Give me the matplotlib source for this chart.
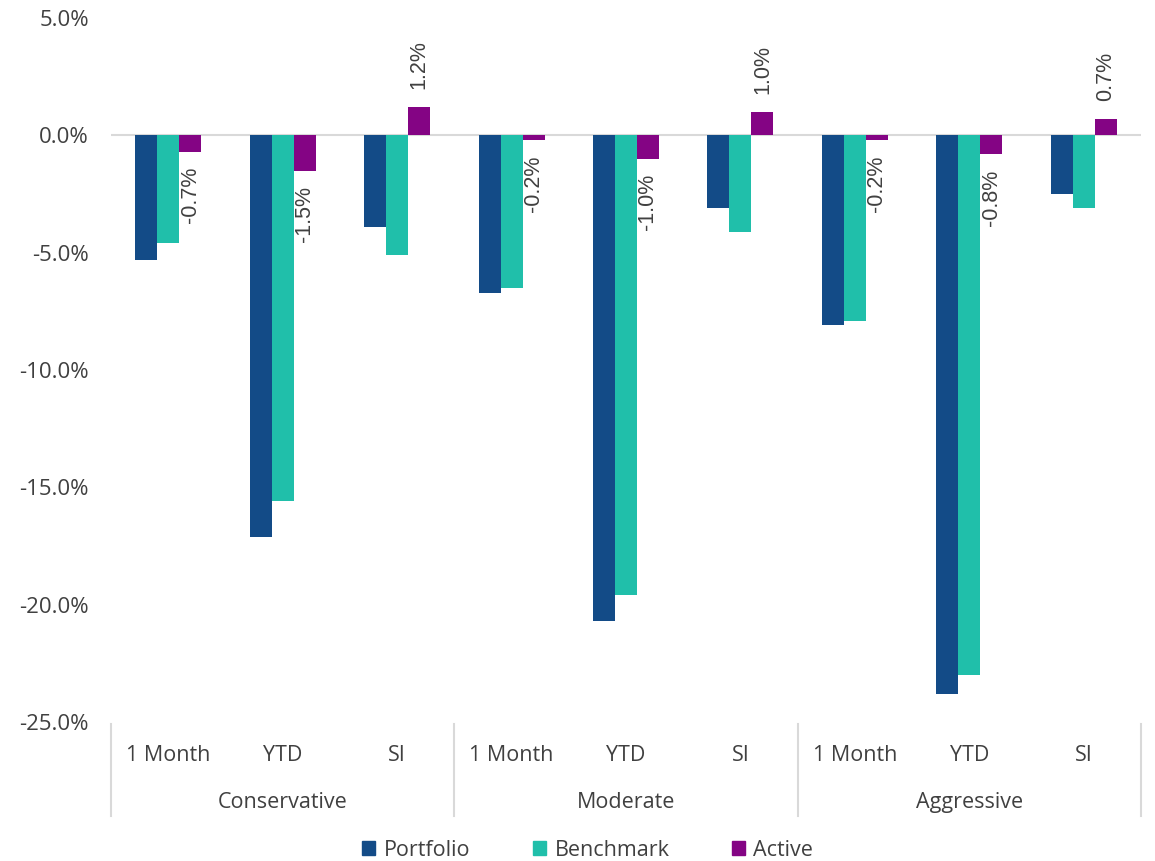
import numpy as np
import matplotlib.pyplot as plt
from matplotlib.patches import Patch
import matplotlib.transforms as mtransforms

plt.rcParams['font.family'] = ['Open Sans', 'DejaVu Sans']

groups = ['Conservative', 'Moderate', 'Aggressive']
periods = ['1 Month', 'YTD', 'SI']
portfolio = [-5.3, -17.1, -3.9, -6.7, -20.7, -3.1, -8.1, -23.8, -2.5]
benchmark = [-4.6, -15.6, -5.1, -6.5, -19.6, -4.1, -7.9, -23.0, -3.1]
active = [-0.7, -1.5, 1.2, -0.2, -1.0, 1.0, -0.2, -0.8, 0.7]

c_port = '#134b87'
c_bench = '#20bfaa'
c_act = '#840484'
txt = '#404040'
grid = '#d9d9d9'

fig = plt.figure(figsize=(11.55, 8.61), dpi=100)
ax = fig.add_axes([111 / 1155, 1 - 722 / 861, 1030 / 1155, 704 / 861])

x = np.arange(len(portfolio))
w = 0.192
ax.bar(x - w, portfolio, w, color=c_port, zorder=3)
ax.bar(x, benchmark, w, color=c_bench, zorder=3)
bars = ax.bar(x + w, active, w, color=c_act, zorder=3)

for b, v in zip(bars, active):
    off = 13 if v > 0 else -11
    ax.annotate(f'{v:.1f}%', (b.get_x() + b.get_width() / 2, v),
                xytext=(0, off), textcoords='offset points',
                rotation=90, ha='center', va='bottom' if v > 0 else 'top',
                fontsize=15.5, color=txt, family=['Liberation Sans', 'DejaVu Sans'])

ax.axhline(0, color=grid, lw=1.5, zorder=2)
ax.set_ylim(-25, 5)
ax.set_xlim(-0.5, len(x) - 0.5)
ax.set_yticks(np.arange(-25, 6, 5))
ax.set_yticklabels([f'{t:.1f}%' for t in np.arange(-25, 6, 5)])
ax.tick_params(axis='y', length=0, pad=16, labelsize=16, labelcolor=txt)
ax.set_xticks([])
for s in ax.spines.values():
    s.set_visible(False)

# two-level category axis
tr = mtransforms.blended_transform_factory(ax.transData, ax.transAxes)
for i in x:
    ax.text(i, -0.047, periods[i % 3], transform=tr, ha='center', va='center',
            fontsize=15.5, color=txt)
for g, name in enumerate(groups):
    ax.text(g * 3 + 1, -0.114, name, transform=tr, ha='center', va='center',
            fontsize=15.5, color=txt)
for xs in np.arange(-0.5, len(x), 3):
    ax.plot([xs, xs], [-0.003, -0.1335], transform=tr, color=grid, lw=1.5,
            clip_on=False)

handles = [Patch(color=c_port, label='Portfolio'),
           Patch(color=c_bench, label='Benchmark'),
           Patch(color=c_act, label='Active')]
fig.legend(handles=handles, loc='center', bbox_to_anchor=(0.509, 1 - 850 / 861),
           ncol=3, frameon=False, fontsize=15.5, handlelength=0.6, handleheight=0.6,
           handletextpad=0.4, columnspacing=2.9, labelcolor=txt)

fig.savefig('out.png', dpi=100, facecolor='white')
